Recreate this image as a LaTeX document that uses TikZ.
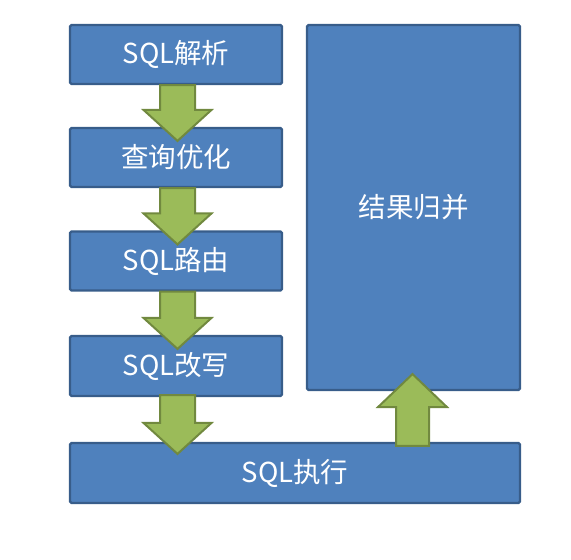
\documentclass[tikz,border=0pt]{standalone}
\usepackage{fontspec}
\setmainfont{Noto Sans CJK SC}
\usetikzlibrary{calc}
\definecolor{boxfill}{HTML}{4F81BD}
\definecolor{boxline}{HTML}{385D8A}
\definecolor{arrfill}{HTML}{9BBB59}
\definecolor{arrline}{HTML}{71893F}
\tikzset{
  stepbox/.style={draw=boxline, fill=boxfill, line width=2.2pt, rounded corners=1.5pt,
    text=white, font=\fontsize{27.5}{27.5}\selectfont, inner sep=0pt, anchor=center},
  blockarr/.style={draw=arrline, fill=arrfill, line width=2pt, line join=miter},
}
\newcommand\arrdown[2]{%
  \path[blockarr] ($(#1)+(-17.5,0)$) -- ($(#2)+(-17.5,-31)$) -- ($(#2)+(-34,-31)$) -- (#2)
    -- ($(#2)+(34,-31)$) -- ($(#2)+(17.5,-31)$) -- ($(#1)+(17.5,0)$) -- cycle;}
\newcommand\arrup[2]{%
  \path[blockarr] ($(#1)+(-16.5,0)$) -- ($(#2)+(-16.5,33)$) -- ($(#2)+(-34.5,33)$) -- (#2)
    -- ($(#2)+(34.5,33)$) -- ($(#2)+(16.5,33)$) -- ($(#1)+(16.5,0)$) -- cycle;}
\begin{document}
\begin{tikzpicture}[x=1pt,y=-1pt]
\useasboundingbox (0,0) rectangle (571,560);
\node[stepbox, minimum width=212pt, minimum height=59pt] (parse) at (176,54.5) {SQL解析};
\node[stepbox, minimum width=212pt, minimum height=59pt] (opt) at (176,157.5) {查询优化};
\node[stepbox, minimum width=212pt, minimum height=59pt] (route) at (176,261) {SQL路由};
\node[stepbox, minimum width=212pt, minimum height=60pt] (rewrite) at (176,366) {SQL改写};
\node[stepbox, minimum width=450pt, minimum height=60pt] (exec) at (295,473) {SQL执行};
\node[stepbox, minimum width=213pt, minimum height=365pt] (merge) at (413.5,207.5) {结果归并};
\coordinate (t1) at ($(opt.north)+(1.5,14)$);
\coordinate (t2) at ($(route.north)+(1.5,14)$);
\coordinate (t3) at ($(rewrite.north)+(1.5,14)$);
\coordinate (t4) at ($(exec.north -| rewrite.south)+(1.5,12)$);
\coordinate (s1) at ($(parse.south)+(1.5,0)$);
\coordinate (s2) at ($(opt.south)+(1.5,0)$);
\coordinate (s3) at ($(route.south)+(1.5,0)$);
\coordinate (s4) at ($(rewrite.south)+(1.5,-2)$);
\arrdown{s1}{t1}
\arrdown{s2}{t2}
\arrdown{s3}{t3}
\arrdown{s4}{t4}
\coordinate (u1) at ($(exec.north -| merge.south)+(-1,4)$);
\coordinate (u2) at ($(merge.south)+(-1,-17)$);
\arrup{u1}{u2}
\end{tikzpicture}
\end{document}
